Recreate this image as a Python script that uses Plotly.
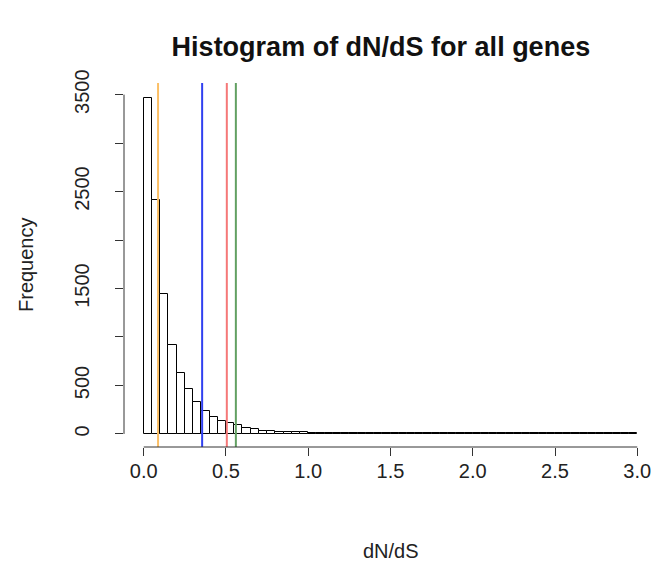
import plotly.graph_objects as go

# Histogram bins (width 0.05 from 0 to 3.0) and counts
bin_width = 0.05
bin_starts = [round(i * bin_width, 2) for i in range(60)]
counts = [3465, 2410, 1440, 920, 625, 460, 330, 235, 175, 138,
          113, 95, 65, 48, 32, 35, 24, 22, 17, 17,
          14, 12, 11, 10, 9, 9, 8, 8, 8, 7,
          7, 7, 7, 7, 7, 6, 7, 6, 6, 6,
          6, 6, 6, 6, 6, 6, 6, 6, 6, 6,
          6, 6, 6, 6, 6, 6, 6, 6, 6, 7]

# Vertical reference lines (value, colour)
line_values = [0.087, 0.355, 0.505, 0.56]
line_colors = ["#FBBF66", "#3040F0", "#F57878", "#62A062"]

x_ticks = [0.0, 0.5, 1.0, 1.5, 2.0, 2.5, 3.0]
x_tick_labels = ["0.0", "0.5", "1.0", "1.5", "2.0", "2.5", "3.0"]
y_ticks = [0, 500, 1000, 1500, 2000, 2500, 3000, 3500]
y_tick_labels = ["0", "500", "", "1500", "", "2500", "", "3500"]

title_text = "Histogram of dN/dS for all genes"
x_title = "dN/dS"
y_title = "Frequency"

FONT = "Liberation Sans, Arial, Helvetica, sans-serif"

centers = [s + bin_width / 2 for s in bin_starts]

fig = go.Figure()
fig.add_trace(go.Bar(
    x=centers, y=counts, width=[bin_width] * len(centers),
    marker=dict(color="white", line=dict(color="black", width=1)),
    hoverinfo="x+y", showlegend=False,
))

shapes = []
for v, c in zip(line_values, line_colors):
    shapes.append(dict(type="line", xref="x", yref="paper", x0=v, x1=v, y0=0, y1=1,
                       line=dict(color=c, width=2)))
# R-style axis lines spanning first to last tick
shapes.append(dict(type="line", xref="x", yref="paper", x0=x_ticks[0], x1=x_ticks[-1], y0=0, y1=0,
                   line=dict(color="#333333", width=1)))
shapes.append(dict(type="line", xref="paper", yref="y", x0=0, x1=0, y0=y_ticks[0], y1=y_ticks[-1],
                   line=dict(color="#333333", width=1)))

fig.update_layout(
    width=657, height=563,
    margin=dict(l=124, r=0, t=83, b=116, pad=0),
    plot_bgcolor="white", paper_bgcolor="white",
    font=dict(family=FONT, size=20, color="#222222"),
    bargap=0,
    title=dict(text="<b>" + title_text + "</b>", x=0.482, xref="paper", xanchor="center",
               y=1 - 47 / 563, yref="container", yanchor="middle",
               font=dict(family=FONT, size=27, color="#111111")),
    xaxis=dict(range=[-0.12, 3.12], tickvals=x_ticks, ticktext=x_tick_labels,
               ticks="outside", ticklen=8, tickwidth=1, tickcolor="#333333",
               showgrid=False, zeroline=False, showline=False,
               ticklabelstandoff=-2, fixedrange=True),
    yaxis=dict(range=[-135, 3620], tickvals=y_ticks, ticktext=y_tick_labels,
               ticks="outside", ticklen=8, tickwidth=1, tickcolor="#333333",
               tickangle=-90,
               showgrid=False, zeroline=False, showline=False,
               ticklabelstandoff=18, fixedrange=True),
    shapes=shapes,
    annotations=[
        dict(text=x_title, xref="paper", yref="paper", x=0.5, y=0, yshift=-104,
             xanchor="center", yanchor="middle", showarrow=False,
             font=dict(family=FONT, size=20, color="#222222")),
        dict(text=y_title, xref="paper", yref="paper", x=0, y=0.5, xshift=-98,
             xanchor="center", yanchor="middle", textangle=-90, showarrow=False,
             font=dict(family=FONT, size=20, color="#222222")),
    ],
)

fig.write_html("out.html")
